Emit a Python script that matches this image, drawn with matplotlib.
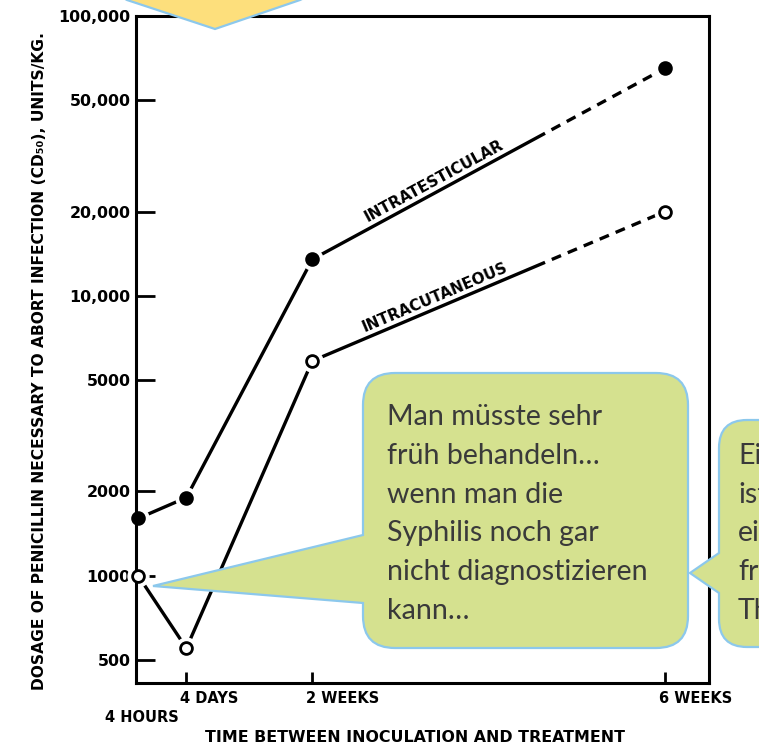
import numpy as np
import matplotlib.pyplot as plt
from matplotlib.path import Path
from matplotlib.patches import PathPatch, Polygon

# data
days = [4 / 24, 4, 14, 42]
x_labels = ['4 HOURS', '4 DAYS', '2 WEEKS', '6 WEEKS']
intratesticular = [1600, 1900, 13500, 65000]
intracutaneous = [1000, 550, 5850, 20000]
y_ticks = [500, 1000, 2000, 5000, 10000, 20000, 50000, 100000]
y_ticklabels = ['500', '1000', '2000', '5000', '10,000', '20,000', '50,000', '100,000']

bubble_lines = ['Man müsste sehr', 'früh behandeln…', 'wenn man die',
                'Syphilis noch gar', 'nicht diagnostizieren', 'kann…']
bubble2_lines = ['Ei', 'ist', 'ei', 'fr', 'Th']

plt.rcParams['font.family'] = 'DejaVu Sans'
plt.rcParams['font.weight'] = 'bold'

W, H = 759, 747
fig = plt.figure(figsize=(W / 100, H / 100), dpi=100)
ax = fig.add_axes([136 / W, 1 - 683 / H, (709 - 136) / W, (683 - 16) / H])
ax.set_yscale('log')
ax.set_ylim(413, 100000)
ax.set_xlim(0, 45.5)

for s in ax.spines.values():
    s.set_linewidth(2.2)
    s.set_zorder(2.5)

ax.set_yticks(y_ticks)
ax.set_yticklabels(y_ticklabels)
ax.minorticks_off()
ax.tick_params(axis='y', direction='in', length=14, width=2, pad=4, labelsize=11.4)
ax.set_xticks(days[1:])
ax.set_xticklabels([])
ax.tick_params(axis='x', direction='in', length=8, width=2)

solid_frac = 0.66


def draw_series(y, filled, label, label_frac, label_off):
    x = np.asarray(days, float)
    y = np.asarray(y, float)
    ly = np.log10(y)
    xb = x[2] + solid_frac * (x[3] - x[2])
    yb = 10 ** (ly[2] + solid_frac * (ly[3] - ly[2]))
    ax.plot(list(x[:3]) + [xb], list(y[:3]) + [yb], color='black', lw=2.4,
            solid_capstyle='butt', zorder=2.1)
    ax.plot([xb, x[3]], [yb, y[3]], color='black', lw=2.4,
            ls=(3.0, (3.0, 2.2)), zorder=2.1)
    # white halo so the lines stop short of the markers
    ax.plot(x, y, 'o', ms=15, color='white', zorder=2.3, clip_on=False)
    ax.plot(x, y, 'o', ms=8.5, mfc='black' if filled else 'white', mec='black',
            mew=2, zorder=4, clip_on=False)
    # label along the 2 weeks -> 6 weeks segment
    p0 = ax.transData.transform((x[2], y[2]))
    p1 = ax.transData.transform((x[3], y[3]))
    ang = np.degrees(np.arctan2(p1[1] - p0[1], p1[0] - p0[0]))
    tx = x[2] + label_frac * (x[3] - x[2])
    ty = 10 ** (ly[2] + label_frac * (ly[3] - ly[2]))
    ax.annotate(label, xy=(tx, ty), xytext=(-label_off * np.sin(np.radians(ang)),
                                            label_off * np.cos(np.radians(ang))),
                textcoords='offset points', rotation=ang, rotation_mode='anchor',
                ha='center', va='bottom', fontsize=11, fontweight='bold')


draw_series(intratesticular, True, 'INTRATESTICULAR', 0.36, 2.5)
draw_series(intracutaneous, False, 'INTRACUTANEOUS', 0.36, 2.5)

# x tick labels
for d, lab in zip(days, x_labels):
    if d == days[0]:
        ax.annotate(lab, xy=(d, 0), xycoords=('data', 'axes fraction'),
                    xytext=(3, -25), textcoords='offset points',
                    ha='center', va='center', fontsize=10.5)
    else:
        ax.annotate(lab, xy=(d, 0), xycoords=('data', 'axes fraction'),
                    xytext=(-4.5, -11), textcoords='offset points',
                    ha='left', va='center', fontsize=10.5)

fig.text(40 / W, 1 - 361 / H,
         'DOSAGE OF PENICILLIN NECESSARY TO ABORT INFECTION (CD₅₀), UNITS/KG.',
         rotation=90, ha='center', va='center', fontsize=11.2)
fig.text(415 / W, 1 - 738 / H, 'TIME BETWEEN INOCULATION AND TREATMENT',
         ha='center', va='center', fontsize=11.4)


# slide overlays (speech bubbles), in pixel coordinates of the picture
def px(x, y):
    return (x / W, 1 - y / H)


def bubble(x0, y0, x1, y1, r, ya, yb, tip):
    verts = [(x0 + r, y0), (x1 - r, y0), (x1, y0), (x1, y0 + r), (x1, y1 - r),
             (x1, y1), (x1 - r, y1), (x0 + r, y1), (x0, y1), (x0, y1 - r),
             (x0, yb), tip, (x0, ya), (x0, y0 + r), (x0, y0), (x0 + r, y0), (x0 + r, y0)]
    codes = [Path.MOVETO, Path.LINETO, Path.CURVE3, Path.CURVE3, Path.LINETO,
             Path.CURVE3, Path.CURVE3, Path.LINETO, Path.CURVE3, Path.CURVE3,
             Path.LINETO, Path.LINETO, Path.LINETO, Path.LINETO, Path.CURVE3,
             Path.CURVE3, Path.CLOSEPOLY]
    path = Path([px(*v) for v in verts], codes)
    fig.add_artist(PathPatch(path, transform=fig.transFigure, facecolor='#D5E18F',
                             edgecolor='#8CC8EC', lw=1.6, zorder=10))


bubble(363, 373, 688, 648, 32, 535, 603, (153, 586))
bubble(719, 420, 800, 647, 28, 553, 593, (690, 573))

fig.add_artist(Polygon([px(110, -10), px(127, 0), px(215, 29), px(300, 0), px(320, -10)],
                       closed=True, transform=fig.transFigure, facecolor='#FDDF7C',
                       edgecolor='#8CC8EC', lw=1.6, zorder=10))

base0 = 425
step = 38.8
for i, line in enumerate(bubble_lines):
    fig.text(*px(387, base0 + i * step), line, fontfamily='Lato', fontweight='normal',
             fontsize=20.6, color='#3A3A3A', va='baseline', ha='left', zorder=11)
for i, line in enumerate(bubble2_lines):
    fig.text(*px(738, base0 + (i + 1) * step), line, fontfamily='Lato', fontweight='normal',
             fontsize=20.6, color='#3A3A3A', va='baseline', ha='left', zorder=11)

fig.savefig('out.png', dpi=100)
